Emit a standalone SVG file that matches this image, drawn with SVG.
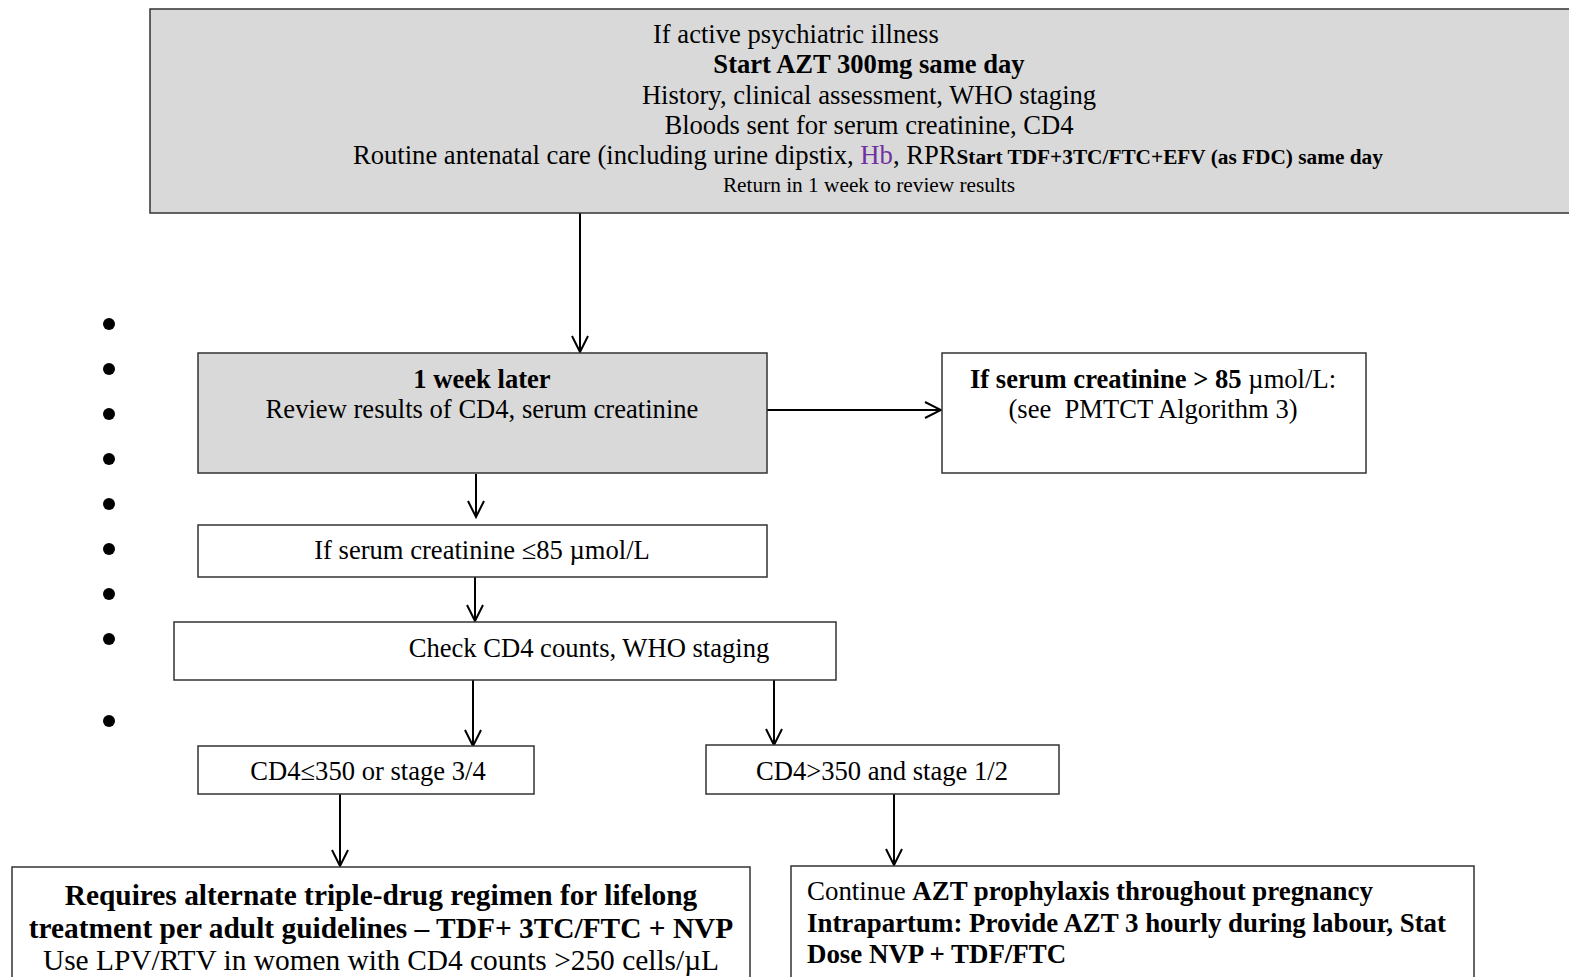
<svg xmlns="http://www.w3.org/2000/svg" width="1569" height="977" viewBox="0 0 1569 977">
<defs>
<style>
.box{stroke:#333;stroke-width:1.5}
.grey{fill:#d9d9d9}
.white{fill:#fff}
text{font-family:"Liberation Serif","Times New Roman",serif;fill:#000}
.t24{font-size:26.6px}
.t19{font-size:21.3px}
.t27{font-size:29.4px}
.t25{font-size:26.9px}
.b{font-weight:bold}
.c{text-anchor:middle}
.conn{stroke:#000;stroke-width:2;fill:none}
</style>
<marker id="arr" viewBox="0 0 20 20" refX="18" refY="10" markerWidth="20" markerHeight="20" markerUnits="userSpaceOnUse" orient="auto">
<path d="M2,2 L18,10 L2,18" fill="none" stroke="#000" stroke-width="2"/>
</marker>
</defs>
<rect width="1569" height="977" fill="#fff"/>
<g id="bullets" fill="#000">
<circle cx="109" cy="324" r="6"/>
<circle cx="109" cy="369" r="6"/>
<circle cx="109" cy="414" r="6"/>
<circle cx="109" cy="459" r="6"/>
<circle cx="109" cy="504" r="6"/>
<circle cx="109" cy="549" r="6"/>
<circle cx="109" cy="594" r="6"/>
<circle cx="109" cy="639" r="6"/>
<circle cx="109" cy="721" r="6"/>
</g>
<g id="connectors">
<line class="conn" x1="580" y1="213" x2="580" y2="352" marker-end="url(#arr)"/>
<line class="conn" x1="767" y1="410" x2="941" y2="410" marker-end="url(#arr)"/>
<line class="conn" x1="476" y1="474" x2="476" y2="517" marker-end="url(#arr)"/>
<line class="conn" x1="475" y1="577" x2="475" y2="621" marker-end="url(#arr)"/>
<line class="conn" x1="473" y1="680" x2="473" y2="746" marker-end="url(#arr)"/>
<line class="conn" x1="774" y1="680" x2="774" y2="745" marker-end="url(#arr)"/>
<line class="conn" x1="340" y1="794" x2="340" y2="866" marker-end="url(#arr)"/>
<line class="conn" x1="894" y1="794" x2="894" y2="865" marker-end="url(#arr)"/>
</g>
<g id="n-start">
<rect class="box grey" x="150" y="9" width="1430" height="204"/>
<text class="t24" x="653" y="43">If active psychiatric illness</text>
<text class="t24 b c" x="869" y="73">Start AZT 300mg same day</text>
<text class="t24 c" x="869" y="104">History, clinical assessment, WHO staging</text>
<text class="t24 c" x="869" y="134">Bloods sent for serum creatinine, CD4</text>
<text x="353" y="164"><tspan class="t24">Routine antenatal care (including urine dipstix, </tspan><tspan class="t24" style="fill:#7030a0">Hb</tspan><tspan class="t24">, RPR</tspan><tspan class="t19 b">Start TDF+3TC/FTC+EFV (as FDC) same day</tspan></text>
<text class="t19 c" x="869" y="192">Return in 1 week to review results</text>
</g>
<g id="n-week">
<rect class="box grey" x="198" y="353" width="569" height="120"/>
<text class="t24 b c" x="482" y="388">1 week later</text>
<text class="t24 c" x="482" y="418">Review results of CD4, serum creatinine</text>
</g>
<g id="n-high">
<rect class="box white" x="942" y="353" width="424" height="120"/>
<text class="t24 c" x="1153" y="388"><tspan class="b">If serum creatinine &gt; 85</tspan> µmol/L:</text>
<text class="t24 c" x="1153" y="418" xml:space="preserve">(see  PMTCT Algorithm 3)</text>
</g>
<g id="n-low">
<rect class="box white" x="198" y="525" width="569" height="52"/>
<text class="t24 c" x="482" y="559">If serum creatinine ≤85 µmol/L</text>
</g>
<g id="n-check">
<rect class="box white" x="174" y="622" width="662" height="58"/>
<text class="t24 c" x="589" y="657">Check CD4 counts, WHO staging</text>
</g>
<g id="n-le350">
<rect class="box white" x="198" y="746" width="336" height="48"/>
<text class="t24 c" x="368" y="780">CD4≤350 or stage 3/4</text>
</g>
<g id="n-gt350">
<rect class="box white" x="706" y="745" width="353" height="49"/>
<text class="t24 c" x="882" y="780">CD4&gt;350 and stage 1/2</text>
</g>
<g id="n-triple">
<rect class="box white" x="12" y="867" width="738" height="120"/>
<text class="t27 b c" x="381" y="905">Requires alternate triple-drug regimen for lifelong</text>
<text class="t27 b c" x="381" y="938">treatment per adult guidelines – TDF+ 3TC/FTC + NVP</text>
<text class="t27 c" x="381" y="970">Use LPV/RTV in women with CD4 counts &gt;250 cells/µL</text>
</g>
<g id="n-azt">
<rect class="box white" x="791" y="866" width="683" height="120"/>
<text class="t25" x="807" y="900">Continue <tspan class="b">AZT prophylaxis throughout pregnancy</tspan></text>
<text class="t25 b" x="807" y="932">Intrapartum: Provide AZT 3 hourly during labour, Stat</text>
<text class="t25 b" x="807" y="963">Dose NVP + TDF/FTC</text>
</g>
</svg>
